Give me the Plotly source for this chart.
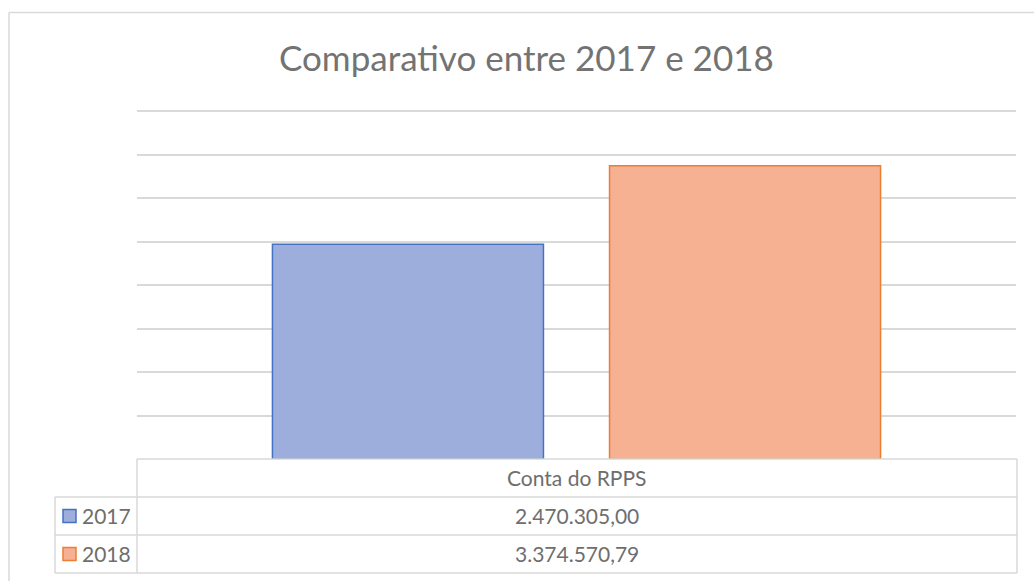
import plotly.graph_objects as go

# ---- data ----
categories = ["Conta do RPPS"]
series_names = ["2017", "2018"]
values_2017 = [2470305.00]
values_2018 = [3374570.79]
title_text = "Comparativo entre 2017 e 2018"
y_max = 4000000
y_step = 500000

fill_colors = ["#9DAEDD", "#F6B193"]
line_colors = ["#4472C4", "#ED7D31"]

W, H = 1034, 581
PL, PR, PB = 137, 1016, 459      # plot area in pixels
Y_TOP_GRID = 111                 # pixel where y_max gridline sits
range_top = y_max * 1.0125
PT = PB - (PB - Y_TOP_GRID) * range_top / y_max


def px(x):
    return (x - PL) / (PR - PL)


def py(y):
    return (PB - y) / (PB - PT)


def fmt_br(v):
    s = f"{v:,.2f}"
    return s.replace(",", "X").replace(".", ",").replace("X", ".")


fig = go.Figure()
for name, vals, fc, lc in zip(series_names, [values_2017, values_2018], fill_colors, line_colors):
    fig.add_trace(go.Bar(
        x=categories, y=vals, name=name,
        marker=dict(color=fc, line=dict(color=lc, width=1.5)),
        showlegend=False,
    ))

grid = "#D9D9D9"
txt = "#6E6E6E"
FONT = "Lato"
TSIZE = 21
shapes = []
ann = []

# outer chart border (left and top)
shapes.append(dict(type="line", xref="paper", yref="paper", x0=px(9), x1=px(9), y0=py(12), y1=py(590),
                   line=dict(color=grid, width=1.5)))
shapes.append(dict(type="line", xref="paper", yref="paper", x0=px(9), x1=px(1045), y0=py(12), y1=py(12),
                   line=dict(color=grid, width=1.5)))

# data table lines
T_RIGHT = 1017
rows_y = [459, 497, 535, 573]
LEG_LEFT = 55
shapes.append(dict(type="line", xref="paper", yref="paper", x0=px(PL), x1=px(T_RIGHT), y0=py(459), y1=py(459),
                   line=dict(color=grid, width=1.5)))
for yy in rows_y[1:]:
    shapes.append(dict(type="line", xref="paper", yref="paper", x0=px(LEG_LEFT), x1=px(T_RIGHT), y0=py(yy), y1=py(yy),
                       line=dict(color=grid, width=1.5)))
shapes.append(dict(type="line", xref="paper", yref="paper", x0=px(LEG_LEFT), x1=px(LEG_LEFT), y0=py(497), y1=py(573),
                   line=dict(color=grid, width=1.5)))
shapes.append(dict(type="line", xref="paper", yref="paper", x0=px(PL), x1=px(PL), y0=py(459), y1=py(573),
                   line=dict(color=grid, width=1.5)))
shapes.append(dict(type="line", xref="paper", yref="paper", x0=px(T_RIGHT), x1=px(T_RIGHT), y0=py(459), y1=py(573),
                   line=dict(color=grid, width=1.5)))

# header text
for c in categories:
    ann.append(dict(x=c, xref="x", y=py(478), yref="paper", text=c, showarrow=False,
                    font=dict(family=FONT, size=TSIZE, color=txt), xanchor="center", yanchor="middle"))

# rows
for i, (name, vals, fc, lc) in enumerate(zip(series_names, [values_2017, values_2018], fill_colors, line_colors)):
    yc = (rows_y[i + 1] + rows_y[i + 2]) / 2
    shapes.append(dict(type="rect", xref="paper", yref="paper", x0=px(63), x1=px(76), y0=py(yc - 6.5), y1=py(yc + 6.5),
                       fillcolor=fc, line=dict(color=lc, width=1.5)))
    ann.append(dict(x=px(80), xref="paper", y=py(yc), yref="paper", text=name, showarrow=False,
                    font=dict(family=FONT, size=TSIZE, color=txt), xanchor="left", yanchor="middle"))
    for c, v in zip(categories, vals):
        ann.append(dict(x=c, xref="x", y=py(yc), yref="paper", text=fmt_br(v), showarrow=False,
                        font=dict(family=FONT, size=TSIZE, color=txt), xanchor="center", yanchor="middle"))

# chart title (centred over the whole chart area)
ann.append(dict(x=px(526), xref="paper", y=py(57), yref="paper", text=title_text, showarrow=False,
                font=dict(family=FONT, size=35, color="#737373"), xanchor="center", yanchor="middle"))

fig.update_layout(
    width=W, height=H,
    margin=dict(l=PL, r=W - PR, t=PT, b=H - PB, pad=0),
    paper_bgcolor="white", plot_bgcolor="white",
    barmode="group", bargap=0.233, bargroupgap=0.196,
    xaxis=dict(showticklabels=False, showgrid=False, zeroline=False, showline=False, ticks=""),
    yaxis=dict(range=[0, range_top], dtick=y_step, tick0=0, showticklabels=False, showgrid=True, gridcolor=grid,
               gridwidth=1.5, zeroline=False, showline=False, ticks=""),
    shapes=shapes, annotations=ann,
)

fig.write_html("out.html", config={"displayModeBar": False},
               post_script="document.body.style.margin='0';document.body.style.overflow='hidden';")
